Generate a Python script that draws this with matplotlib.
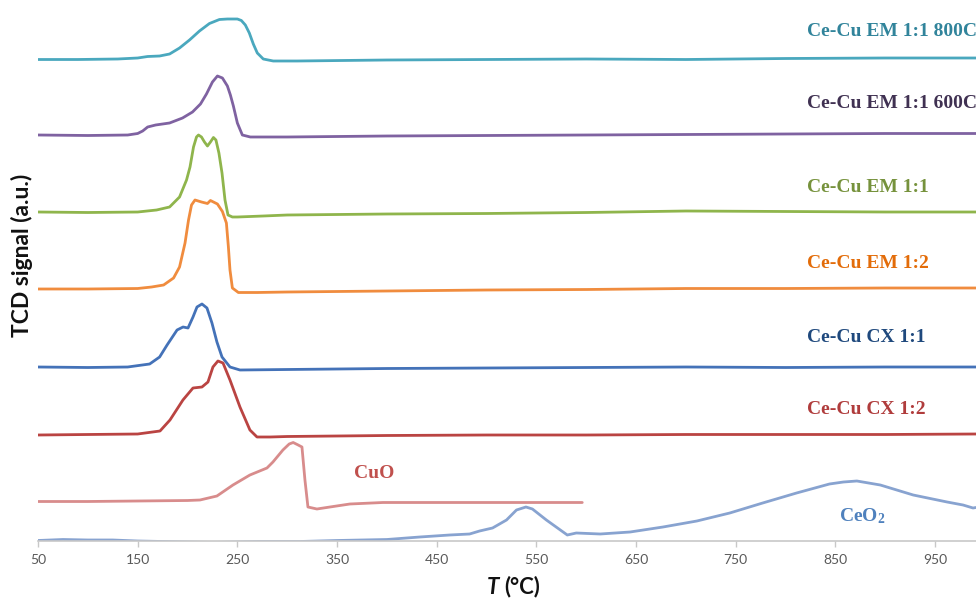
import matplotlib
matplotlib.use("Agg")
import matplotlib.pyplot as plt

# ---- TPR profiles (temperature in degC, TCD signal in a.u., stacked) ----
T_em11_800 = [50, 90, 130, 150, 160, 172, 182, 192, 202, 212, 222, 232, 240, 250, 254, 258, 262,
              266, 270, 276, 286, 310, 400, 500, 600, 700, 800, 900, 991]
S_em11_800 = [481.5, 481.5, 482, 483, 484.5, 485, 487, 493, 501, 510, 517.5, 521.5, 522, 522, 520.5,
              516, 508, 497, 488, 482, 480, 480, 481, 481.5, 482, 481.5, 482.5, 483, 483]

T_em11_600 = [50, 100, 140, 150, 155, 160, 168, 182, 195, 205, 213, 219, 225, 230, 235, 240, 243,
              246, 250, 255, 263, 300, 400, 500, 600, 700, 800, 900, 991]
S_em11_600 = [406, 405.5, 406, 407.5, 410, 414, 416, 418, 423, 429, 437, 447, 459, 465, 463, 455,
              446, 435, 418, 406, 404, 404, 405, 405.5, 406, 406.5, 407, 407.5, 407.5]

T_em11 = [50, 100, 150, 169, 182, 192, 199, 202.5, 206, 209, 211, 214, 217, 220, 223, 226, 228.5,
          231.5, 234.6, 237.6, 240.6, 245, 250, 276, 300, 400, 500, 600, 700, 800, 900, 991]
S_em11 = [329, 328.5, 329, 331, 334, 344, 361, 374, 394, 404, 406, 404, 399, 395, 399, 403.5, 401,
          388, 368, 341, 326, 324, 324, 325, 326, 327, 327.5, 328.5, 330, 329.5, 329, 329]

T_em12 = [50, 100, 150, 164, 176, 186, 192, 197.5, 201, 204, 207.5, 214, 220, 223, 230, 235, 239,
          241, 242.6, 245, 251, 270, 300, 400, 500, 600, 700, 800, 900, 991]
S_em12 = [252, 252, 252.5, 254, 256, 263, 274, 298, 321, 336, 341, 339, 337.5, 340.5, 337, 329.5,
          318, 294, 271, 253, 248.5, 248.5, 249, 250, 251, 251.5, 252.5, 252.5, 253, 253]

T_cx11 = [50, 100, 140, 162, 172, 179.5, 189.5, 195.5, 200.5, 205.5, 209.5, 214.5, 219.5, 224.5,
          229.5, 234.6, 242.6, 252.6, 300, 400, 500, 600, 700, 800, 900, 991]
S_cx11 = [174, 173.5, 174, 177, 184, 196, 211, 214, 213, 224, 234, 237, 233, 218, 199, 184, 174,
          171, 171.5, 172.5, 173, 173.5, 174, 173.5, 174, 174]

T_cx12 = [50, 100, 150, 172.4, 182.4, 195.4, 205.5, 214.5, 220.5, 225.5, 230.5, 235.6, 242.6,
          252.6, 262.6, 269.7, 283, 300, 400, 500, 600, 700, 800, 900, 991]
S_cx12 = [106, 106.5, 107, 110, 121, 141, 153, 154, 159, 174, 180, 178, 161, 134, 111, 104, 104,
          104.5, 105.5, 106, 106, 106.5, 106.5, 106.5, 107]

T_cuo = [50, 100, 150, 200, 212.5, 229.5, 245.6, 262.6, 279.7, 285.7, 295.7, 302, 306, 311, 314.8,
         317.8, 320.8, 329.8, 342.9, 362.9, 396, 450, 500, 550, 596]
S_cuo = [39.5, 39.5, 40, 40.5, 41, 45, 56, 66, 73, 79, 91, 97, 98.5, 96, 94, 61, 34, 32, 34, 37,
         38.5, 38.5, 38.5, 38.5, 38.5]

T_ceo2 = [50, 75, 100, 125, 150, 175, 200, 225, 250, 275, 300, 313, 350, 400, 433, 463, 483, 493,
          506, 513, 520, 530, 539.5, 546, 560, 574, 581, 590, 614, 644, 677, 711, 744, 777, 811,
          844, 858, 871.5, 895, 928, 962, 978, 988, 991]
S_ceo2 = [0.5, 1.5, 1, 1, 0, -0.5, -1, -1.5, -1, -0.5, -0.5, -0.5, 0.5, 1.5, 4, 6, 7, 10, 13, 17,
          21, 31, 34, 32, 21, 11, 6, 8, 7, 9, 14, 20, 28, 38, 48, 57, 59, 60, 56, 46, 39, 36, 33, 33.5]

x_ticks = [50, 150, 250, 350, 450, 550, 650, 750, 850, 950]

series = [
    ("Ce-Cu EM 1:1 800C", T_em11_800, S_em11_800, "#4AA8BE", "#31849B", 821, 510),
    ("Ce-Cu EM 1:1 600C", T_em11_600, S_em11_600, "#7F62A1", "#403152", 821, 438),
    ("Ce-Cu EM 1:1", T_em11, S_em11, "#8FB54C", "#76923C", 821, 353),
    ("Ce-Cu EM 1:2", T_em12, S_em12, "#F08C3E", "#E36C09", 821, 277),
    ("Ce-Cu CX 1:1", T_cx11, S_cx11, "#4472B8", "#1F497D", 821, 203),
    ("Ce-Cu CX 1:2", T_cx12, S_cx12, "#BA4442", "#B03C3C", 821, 131),
    ("CuO", T_cuo, S_cuo, "#D88C8C", "#C0504D", 367, 67),
    ("CeO$_\\mathrm{2}$", T_ceo2, S_ceo2, "#88A3D0", "#4F81BD", 854, 25),
]

plt.rcParams["mathtext.fontset"] = "custom"
plt.rcParams["mathtext.rm"] = "Liberation Serif:bold"
plt.rcParams["mathtext.it"] = "Liberation Serif:bold"

W, H = 976, 599
fig = plt.figure(figsize=(W / 100, H / 100), dpi=100)
ax = fig.add_axes([38 / W, 58 / H, 1 - 38 / W, 541 / H])

for name, t, s, lc, tc, lx, ly in series:
    ax.plot(t, s, color=lc, lw=2.0, solid_joinstyle="round", solid_capstyle="round")
    ax.text(lx, ly, name, color=tc, fontsize=14, fontweight="bold",
            family="Liberation Serif", ha="left", va="center", clip_on=False)

ax.set_xlim(50, 991)
ax.set_ylim(0, 541)
ax.set_xticks(x_ticks)
ax.set_xticklabels([str(v) for v in x_ticks])
ax.set_yticks([])
for side in ("top", "right", "left"):
    ax.spines[side].set_visible(False)
ax.spines["bottom"].set_color("#C8C8C8")
ax.spines["bottom"].set_linewidth(1.2)
ax.tick_params(axis="x", direction="out", length=4, width=1.0, color="#C8C8C8",
               labelcolor="#595959", labelsize=10, pad=5)
for lab in ax.get_xticklabels():
    lab.set_family("Lato")

fig.text(487 / W, 1 - 587 / H, "T", fontsize=16, fontweight="bold", style="italic",
         family="Lato", ha="left", va="center", color="#111111")
fig.text(504 / W, 1 - 587 / H, "(°C)", fontsize=16, fontweight="bold",
         family="Lato", ha="left", va="center", color="#111111")
fig.text(22 / W, 1 - 255 / H, "TCD signal (a.u.)", fontsize=16.5, fontweight="bold",
         family="Lato", rotation=90, ha="center", va="center", color="#111111")

fig.savefig("out.png", dpi=100)
